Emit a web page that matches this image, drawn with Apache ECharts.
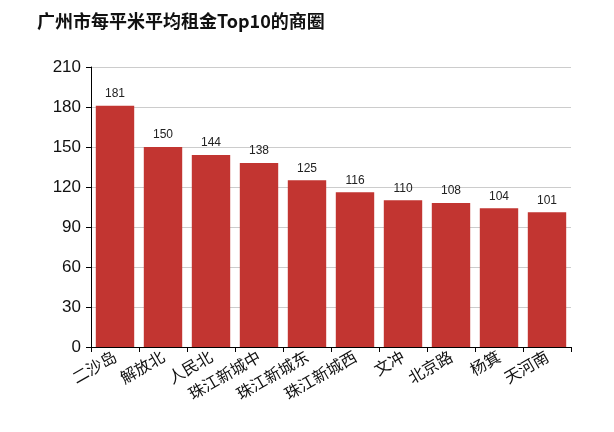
<!DOCTYPE html>
<html><head><meta charset="utf-8">
<script src="https://cdn.jsdelivr.net/npm/echarts@6/dist/echarts.min.js"></script>
<style>html,body{margin:0;padding:0;background:#fff}#c{width:614px;height:432px}</style>
</head><body><div id="c"></div>
<script>
var categories = ['二沙岛','解放北','人民北','珠江新城中','珠江新城东','珠江新城西','文冲','北京路','杨箕','天河南'];
var values = [181,150,144,138,125,116,110,108,104,101];
var yTicks = [0,30,60,90,120,150,180,210];
var chart = echarts.init(document.getElementById('c'));
var font = '"Noto Sans CJK SC", "Liberation Sans", sans-serif';
chart.setOption({
  animation:false,
  title:{text:'广州市每平米平均租金Top10的商圈',left:32,top:7,textStyle:{fontSize:18,fontWeight:'bold',color:'#111',fontFamily:font}},
  grid:{left:91,right:43,top:67,bottom:85,containLabel:false},
  xAxis:{type:'category',data:categories,
    axisLine:{lineStyle:{color:'#000'}},
    axisTick:{show:true,lineStyle:{color:'#000'},length:5},
    axisLabel:{rotate:30,fontSize:16,color:'#111',fontFamily:font,margin:8,interval:0}},
  yAxis:{type:'value',min:yTicks[0],max:yTicks[yTicks.length-1],interval:30,
    axisLine:{show:true,lineStyle:{color:'#000'}},
    axisTick:{show:true,lineStyle:{color:'#000'},length:5},
    axisLabel:{fontSize:17,color:'#111',fontFamily:'"Liberation Sans", sans-serif',margin:10},
    splitLine:{lineStyle:{color:'#ccc'}}},
  series:[{type:'bar',data:values,barCategoryGap:'20%',
    itemStyle:{color:'#c23531'},
    label:{show:true,position:'top',fontSize:12,distance:6,color:'#222',fontFamily:'"Liberation Sans", sans-serif'}}]
});
</script></body></html>
